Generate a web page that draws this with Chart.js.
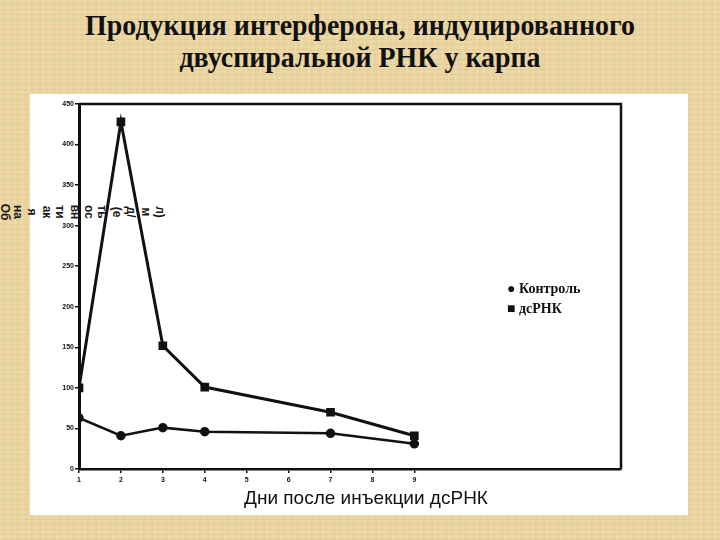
<!DOCTYPE html>
<html>
<head>
<meta charset="utf-8">
<script src="https://cdn.jsdelivr.net/npm/chart.js@4"></script>
<style>
    body {
        margin: 0;
        width: 720px;
        height: 540px;
        overflow: hidden;
        position: relative;
        background-color: rgb(234, 213, 161);
        background-image:
            repeating-linear-gradient(90deg, rgba(255, 255, 255, 0.12) 0 2px, rgba(0, 0, 0, 0) 2px 7px),
            repeating-linear-gradient(0deg, rgba(150, 110, 40, 0.09) 0 1px, rgba(0, 0, 0, 0) 1px 5px);
    }
    .title {
        position: absolute;
        left: 0;
        width: 720px;
        text-align: center;
        font-family: "Liberation Serif", serif;
        font-weight: bold;
        font-size: 30px;
        color: #111;
        line-height: 32px;
        transform: scaleX(0.93);
    }
    #panel {
        position: absolute;
        left: 30px;
        top: 94px;
        width: 658px;
        height: 421px;
        background: white;
    }
    #chartWrap {
        position: absolute;
        left: 0;
        top: 0;
        width: 720px;
        height: 540px;
    }
    .ylab {
        position: absolute;
        writing-mode: vertical-rl;
        font-family: "Liberation Sans", sans-serif;
        font-weight: bold;
        font-size: 12px;
        line-height: 12px;
        color: #1a1a1a;
        transform: translate(-50%, -50%);
    }
    .legend {
        position: absolute;
        left: 507px;
        font-family: "Liberation Serif", serif;
        font-weight: bold;
        font-size: 14px;
        color: #111;
    }
    #xTitle {
        position: absolute;
        left: 230px;
        top: 487px;
        width: 272px;
        text-align: center;
        font-family: "Liberation Sans", sans-serif;
        font-size: 19px;
        color: #111;
    }
</style>
</head>
<body>
<div class="title" style="top: 9px;">Продукция интерферона, индуцированного</div>
<div class="title" style="top: 41px;">двуспиральной РНК у карпа</div>
<div id="panel"></div>
<div id="ylabel"></div>
<div id="chartWrap"><canvas id="ifnChart" width="720" height="540"></canvas></div>
<div class="legend" style="top: 281px;">● Контроль</div>
<div class="legend" style="top: 301px;">■ дсРНК</div>
<div id="xTitle">Дни после инъекции дсРНК</div>
<script>
const days = [1, 2, 3, 4, 7, 9];
const controlValues = [63, 41, 51, 46, 44, 31];
const dsRnaValues = [100, 428, 152, 101, 70, 41];
const yLabelParts = ["Об", "на", "я", "ак", "ти", "вн", "ос", "ть", "(е", "д/", "м", "л)"];

// broken-up rotated axis caption, as in the scanned slide
const yLabelX = [5, 18, 32, 47, 60, 75, 89, 102, 117, 131, 146, 160];
const ylabel = document.getElementById("ylabel");
yLabelParts.forEach(function (part, i) {
    const span = document.createElement("div");
    span.className = "ylab";
    span.textContent = part;
    span.style.left = yLabelX[i] + "px";
    span.style.top = "212px";
    ylabel.appendChild(span);
});

function toPoints(values) {
    return values.map(function (v, i) {
        return { x: days[i], y: v };
    });
}

const frame = {
    id: "frame",
    afterDatasetsDraw: function (chart) {
        const a = chart.chartArea;
        const c = chart.ctx;
        c.save();
        c.strokeStyle = "#111";
        c.lineWidth = 2.5;
        c.beginPath();
        c.moveTo(a.left, a.top);
        c.lineTo(a.right, a.top);
        c.lineTo(a.right, a.bottom);
        c.stroke();
        c.restore();
    }
};

document.addEventListener("DOMContentLoaded", function () {
    const ctx = document.getElementById("ifnChart").getContext("2d");

    new Chart(ctx, {
        type: "line",
        data: {
            datasets: [
                {
                    label: "дсРНК",
                    data: toPoints(dsRnaValues),
                    borderColor: "#111",
                    backgroundColor: "#111",
                    borderWidth: 3,
                    pointStyle: "rect",
                    pointRadius: 4,
                    tension: 0
                },
                {
                    label: "Контроль",
                    data: toPoints(controlValues),
                    borderColor: "#111",
                    backgroundColor: "#111",
                    borderWidth: 2.5,
                    pointStyle: "circle",
                    pointRadius: 3.5,
                    tension: 0
                }
            ]
        },
        options: {
            responsive: false,
            animation: false,
            layout: {
                padding: { left: 49, top: 104, right: 99, bottom: 46 }
            },
            plugins: {
                legend: { display: false },
                tooltip: { enabled: false }
            },
            scales: {
                x: {
                    type: "linear",
                    min: 1,
                    max: 13.93,
                    afterFit: function (scale) { scale.height = 25; },
                    afterBuildTicks: function (scale) {
                        scale.ticks = scale.ticks.filter(function (t) { return t.value <= 9; });
                    },
                    ticks: {
                        stepSize: 1,
                        color: "#111",
                        padding: 3,
                        font: { family: "Liberation Sans", size: 7, weight: "bold" }
                    },
                    grid: {
                        drawOnChartArea: false,
                        tickLength: 4,
                        color: "#111",
                        lineWidth: 1.5
                    },
                    border: { display: true, color: "#111", width: 2.5 }
                },
                y: {
                    min: 0,
                    max: 450,
                    afterFit: function (scale) { scale.width = 30; },
                    ticks: {
                        stepSize: 50,
                        color: "#111",
                        padding: 1,
                        font: { family: "Liberation Sans", size: 7, weight: "bold" }
                    },
                    grid: {
                        drawOnChartArea: false,
                        tickLength: 4,
                        color: "#111",
                        lineWidth: 1.5
                    },
                    border: { display: true, color: "#111", width: 3 }
                }
            }
        },
        plugins: [frame]
    });
});
</script>
</body>
</html>
